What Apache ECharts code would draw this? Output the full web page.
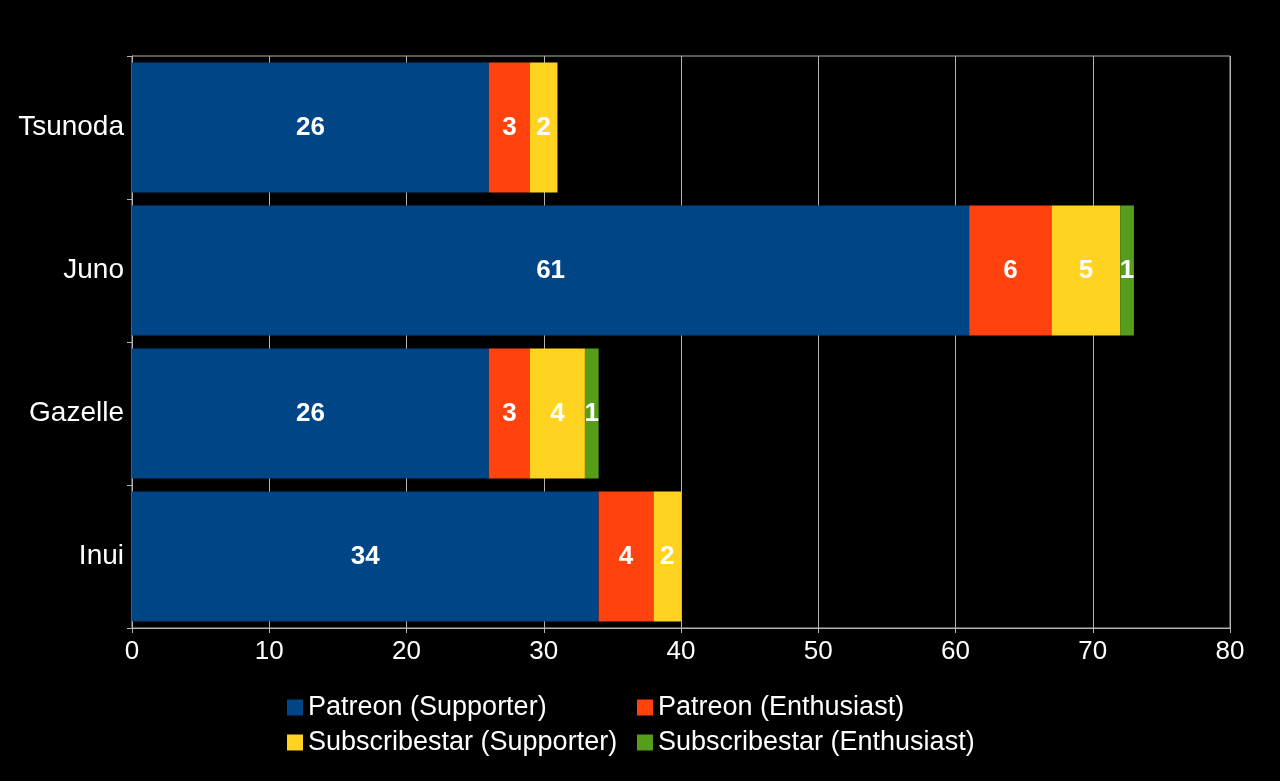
<!DOCTYPE html>
<html>
<head>
<meta charset="utf-8">
<script src="https://cdn.jsdelivr.net/npm/echarts@6/dist/echarts.min.js"></script>
<style>
html, body { margin: 0; padding: 0; background: #000; }
#main { width: 1280px; height: 781px; }
</style>
</head>
<body>
<div id="main"></div>
<script>
// chart data
var names = ['Tsunoda', 'Juno', 'Gazelle', 'Inui'];
var patreonSupporter = [26, 61, 26, 34];
var patreonEnthusiast = [3, 6, 3, 4];
var subSupporter = [2, 5, 4, 2];
var subEnthusiast = [0, 1, 1, 0];
var xTicks = [0, 10, 20, 30, 40, 50, 60, 70, 80];

var myChart = echarts.init(document.getElementById('main'));
var font = 'Liberation Sans, Arial, sans-serif';

function bar(name, data, color) {
    return {
        name: name,
        type: 'bar',
        stack: 'total',
        barCategoryGap: '9%',
        data: data,
        itemStyle: { color: color },
        label: {
            show: true,
            position: 'inside',
            color: '#fff',
            fontFamily: font,
            fontWeight: 'bold',
            fontSize: 26,
            padding: [3, 0, 0, 0],
            formatter: function (p) {
                return p.value ? String(p.value) : '';
            }
        }
    };
}

var option = {
    backgroundColor: '#000',
    animation: false,
    grid: {
        left: 132, right: 50, top: 56, bottom: 153,
        show: true, borderColor: '#b3b3b3', borderWidth: 1
    },
    legend: [{
        orient: 'vertical',
        left: 287, top: 694, padding: 0,
        itemWidth: 16, itemHeight: 16, itemGap: 8,
        icon: 'rect',
        textStyle: { color: '#fff', fontFamily: font, fontSize: 27 },
        data: ['Patreon (Supporter)', 'Subscribestar (Supporter)']
    }, {
        orient: 'vertical',
        left: 637, top: 694, padding: 0,
        itemWidth: 16, itemHeight: 16, itemGap: 8,
        icon: 'rect',
        textStyle: { color: '#fff', fontFamily: font, fontSize: 27 },
        data: ['Patreon (Enthusiast)', 'Subscribestar (Enthusiast)']
    }],
    xAxis: {
        type: 'value',
        min: xTicks[0],
        max: xTicks[xTicks.length - 1],
        interval: 10,
        axisLine: { show: true, lineStyle: { color: '#b3b3b3' } },
        axisTick: { show: true, length: 5, lineStyle: { color: '#b3b3b3' } },
        axisLabel: { color: '#fff', fontFamily: font, fontSize: 26, margin: 11 },
        splitLine: { show: true, lineStyle: { color: '#b3b3b3' } }
    },
    yAxis: {
        type: 'category',
        inverse: true,
        data: names,
        axisLine: { show: true, lineStyle: { color: '#b3b3b3' } },
        axisTick: { show: true, length: 5, lineStyle: { color: '#b3b3b3' } },
        axisLabel: { color: '#fff', fontFamily: font, fontSize: 28, margin: 8, padding: [3, 0, 0, 0] }
    },
    series: [
        bar('Patreon (Supporter)', patreonSupporter, '#004586'),
        bar('Patreon (Enthusiast)', patreonEnthusiast, '#ff420e'),
        bar('Subscribestar (Supporter)', subSupporter, '#ffd320'),
        bar('Subscribestar (Enthusiast)', subEnthusiast, '#579d1c')
    ]
};

myChart.setOption(option);
</script>
</body>
</html>
